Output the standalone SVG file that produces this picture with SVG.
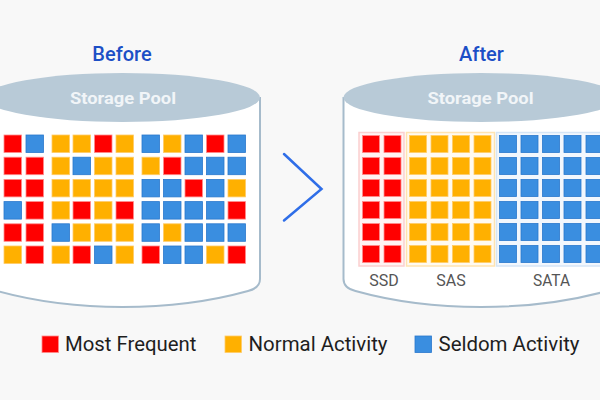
<svg xmlns="http://www.w3.org/2000/svg" width="600" height="400" viewBox="0 0 600 400">
<style>
  .bg { fill: #f8f8f8; }
  .body { fill: #ffffff; stroke: #a6bbcb; stroke-width: 2; }
  .lid { fill: #b8cad7; }
  .title { font-family: Roboto, "Liberation Sans", sans-serif; font-size: 20px; font-weight: 500; fill: #1c4fc6; text-anchor: middle; }
  .pool { font-family: Roboto, "Liberation Sans", sans-serif; font-size: 17px; font-weight: 700; fill: #f1f5f8; text-anchor: middle; }
  .tier { font-family: Roboto, "Liberation Sans", sans-serif; font-size: 16px; fill: #555555; text-anchor: middle; }
  .leg { font-family: Roboto, "Liberation Sans", sans-serif; font-size: 20px; fill: #1e1e1e; }
  .r { fill: #ff0000; stroke: #ff8a8a; stroke-width: 0.8; }
  .y { fill: #ffb000; stroke: #ffcb66; stroke-width: 0.8; }
  .b { fill: #3a8ee0; stroke: #2a78cc; stroke-width: 0.8; }
  .gr { fill: #fff3f3; stroke: #fbcfcf; stroke-width: 1.5; }
  .gy { fill: #fffaf0; stroke: #ffe3b0; stroke-width: 1.5; }
  .gb { fill: #f2f7fd; stroke: #d5e5f6; stroke-width: 1.5; }
  .chev { fill: none; stroke: #2f6ee8; stroke-width: 2.5; stroke-linecap: round; stroke-linejoin: miter; }
</style>
<defs>
  <rect id="sqL" width="17.5" height="17.5"/>
  <rect id="sqR" width="17" height="17"/>
</defs>
<rect class="bg" x="0" y="0" width="600" height="400"/>

<g id="before">
  <text class="title" x="122" y="61">Before</text>
  <path class="body" d="M 260,97 L 260,279 Q 260,288 248,291 C 205,303 160,307 122.5,307 C 85,307 40,303 -3,291 Q -15,288 -15,279 L -15,97"/>
  <ellipse class="lid" cx="122.5" cy="97.5" rx="137.5" ry="24.5"/>
  <text class="pool" x="123" y="104" textLength="106" lengthAdjust="spacingAndGlyphs">Storage Pool</text>
  <g id="before-grid">
    <use href="#sqL" class="r" x="4" y="135"/><use href="#sqL" class="b" x="26" y="135"/>
    <use href="#sqL" class="y" x="52" y="135"/><use href="#sqL" class="y" x="73" y="135"/><use href="#sqL" class="r" x="94.5" y="135"/><use href="#sqL" class="y" x="116" y="135"/>
    <use href="#sqL" class="b" x="142" y="135"/><use href="#sqL" class="y" x="163.5" y="135"/><use href="#sqL" class="b" x="185" y="135"/><use href="#sqL" class="r" x="206.5" y="135"/><use href="#sqL" class="b" x="228" y="135"/>
    <use href="#sqL" class="r" x="4" y="157.2"/><use href="#sqL" class="r" x="26" y="157.2"/>
    <use href="#sqL" class="y" x="52" y="157.2"/><use href="#sqL" class="b" x="73" y="157.2"/><use href="#sqL" class="y" x="94.5" y="157.2"/><use href="#sqL" class="y" x="116" y="157.2"/>
    <use href="#sqL" class="y" x="142" y="157.2"/><use href="#sqL" class="r" x="163.5" y="157.2"/><use href="#sqL" class="b" x="185" y="157.2"/><use href="#sqL" class="b" x="206.5" y="157.2"/><use href="#sqL" class="b" x="228" y="157.2"/>
    <use href="#sqL" class="r" x="4" y="179.4"/><use href="#sqL" class="r" x="26" y="179.4"/>
    <use href="#sqL" class="y" x="52" y="179.4"/><use href="#sqL" class="y" x="73" y="179.4"/><use href="#sqL" class="y" x="94.5" y="179.4"/><use href="#sqL" class="y" x="116" y="179.4"/>
    <use href="#sqL" class="b" x="142" y="179.4"/><use href="#sqL" class="b" x="163.5" y="179.4"/><use href="#sqL" class="r" x="185" y="179.4"/><use href="#sqL" class="b" x="206.5" y="179.4"/><use href="#sqL" class="y" x="228" y="179.4"/>
    <use href="#sqL" class="b" x="4" y="201.6"/><use href="#sqL" class="r" x="26" y="201.6"/>
    <use href="#sqL" class="y" x="52" y="201.6"/><use href="#sqL" class="r" x="73" y="201.6"/><use href="#sqL" class="y" x="94.5" y="201.6"/><use href="#sqL" class="r" x="116" y="201.6"/>
    <use href="#sqL" class="b" x="142" y="201.6"/><use href="#sqL" class="b" x="163.5" y="201.6"/><use href="#sqL" class="b" x="185" y="201.6"/><use href="#sqL" class="b" x="206.5" y="201.6"/><use href="#sqL" class="r" x="228" y="201.6"/>
    <use href="#sqL" class="r" x="4" y="223.8"/><use href="#sqL" class="r" x="26" y="223.8"/>
    <use href="#sqL" class="b" x="52" y="223.8"/><use href="#sqL" class="y" x="73" y="223.8"/><use href="#sqL" class="y" x="94.5" y="223.8"/><use href="#sqL" class="y" x="116" y="223.8"/>
    <use href="#sqL" class="b" x="142" y="223.8"/><use href="#sqL" class="y" x="163.5" y="223.8"/><use href="#sqL" class="b" x="185" y="223.8"/><use href="#sqL" class="b" x="206.5" y="223.8"/><use href="#sqL" class="b" x="228" y="223.8"/>
    <use href="#sqL" class="y" x="4" y="246"/><use href="#sqL" class="r" x="26" y="246"/>
    <use href="#sqL" class="y" x="52" y="246"/><use href="#sqL" class="r" x="73" y="246"/><use href="#sqL" class="b" x="94.5" y="246"/><use href="#sqL" class="y" x="116" y="246"/>
    <use href="#sqL" class="r" x="142" y="246"/><use href="#sqL" class="b" x="163.5" y="246"/><use href="#sqL" class="b" x="185" y="246"/><use href="#sqL" class="y" x="206.5" y="246"/><use href="#sqL" class="r" x="228" y="246"/>
  </g>
</g>

<g id="arrow">
  <polyline class="chev" points="284,154 321.5,189 284,220.5"/>
</g>

<g id="after">
  <text class="title" x="481.5" y="61">After</text>
  <path class="body" d="M 619,97 L 619,279 Q 619,288 607,291 C 564,303 519,307 481,307 C 443.5,307 398.5,303 355.5,291 Q 343.5,288 343.5,279 L 343.5,97"/>
  <ellipse class="lid" cx="481" cy="97.5" rx="137.5" ry="24.5"/>
  <text class="pool" x="480.5" y="104" textLength="106" lengthAdjust="spacingAndGlyphs">Storage Pool</text>
  <g id="tier-ssd">
    <rect class="gr" x="359" y="132.5" width="45" height="133.5"/>
    <use href="#sqR" class="r" x="362.5" y="135.5"/><use href="#sqR" class="r" x="384" y="135.5"/>
    <use href="#sqR" class="r" x="362.5" y="157.5"/><use href="#sqR" class="r" x="384" y="157.5"/>
    <use href="#sqR" class="r" x="362.5" y="179.5"/><use href="#sqR" class="r" x="384" y="179.5"/>
    <use href="#sqR" class="r" x="362.5" y="201.5"/><use href="#sqR" class="r" x="384" y="201.5"/>
    <use href="#sqR" class="r" x="362.5" y="223.5"/><use href="#sqR" class="r" x="384" y="223.5"/>
    <use href="#sqR" class="r" x="362.5" y="245.5"/><use href="#sqR" class="r" x="384" y="245.5"/>
    <text class="tier" x="384" y="286">SSD</text>
  </g>
  <g id="tier-sas">
    <rect class="gy" x="406.5" y="132.5" width="88" height="133.5"/>
    <use href="#sqR" class="y" x="409.5" y="135.5"/><use href="#sqR" class="y" x="431" y="135.5"/><use href="#sqR" class="y" x="452.5" y="135.5"/><use href="#sqR" class="y" x="474" y="135.5"/>
    <use href="#sqR" class="y" x="409.5" y="157.5"/><use href="#sqR" class="y" x="431" y="157.5"/><use href="#sqR" class="y" x="452.5" y="157.5"/><use href="#sqR" class="y" x="474" y="157.5"/>
    <use href="#sqR" class="y" x="409.5" y="179.5"/><use href="#sqR" class="y" x="431" y="179.5"/><use href="#sqR" class="y" x="452.5" y="179.5"/><use href="#sqR" class="y" x="474" y="179.5"/>
    <use href="#sqR" class="y" x="409.5" y="201.5"/><use href="#sqR" class="y" x="431" y="201.5"/><use href="#sqR" class="y" x="452.5" y="201.5"/><use href="#sqR" class="y" x="474" y="201.5"/>
    <use href="#sqR" class="y" x="409.5" y="223.5"/><use href="#sqR" class="y" x="431" y="223.5"/><use href="#sqR" class="y" x="452.5" y="223.5"/><use href="#sqR" class="y" x="474" y="223.5"/>
    <use href="#sqR" class="y" x="409.5" y="245.5"/><use href="#sqR" class="y" x="431" y="245.5"/><use href="#sqR" class="y" x="452.5" y="245.5"/><use href="#sqR" class="y" x="474" y="245.5"/>
    <text class="tier" x="451" y="286">SAS</text>
  </g>
  <g id="tier-sata">
    <rect class="gb" x="496.5" y="132.5" width="110" height="133.5"/>
    <use href="#sqR" class="b" x="499.5" y="135.5"/><use href="#sqR" class="b" x="521" y="135.5"/><use href="#sqR" class="b" x="542.5" y="135.5"/><use href="#sqR" class="b" x="564" y="135.5"/><use href="#sqR" class="b" x="586" y="135.5"/>
    <use href="#sqR" class="b" x="499.5" y="157.5"/><use href="#sqR" class="b" x="521" y="157.5"/><use href="#sqR" class="b" x="542.5" y="157.5"/><use href="#sqR" class="b" x="564" y="157.5"/><use href="#sqR" class="b" x="586" y="157.5"/>
    <use href="#sqR" class="b" x="499.5" y="179.5"/><use href="#sqR" class="b" x="521" y="179.5"/><use href="#sqR" class="b" x="542.5" y="179.5"/><use href="#sqR" class="b" x="564" y="179.5"/><use href="#sqR" class="b" x="586" y="179.5"/>
    <use href="#sqR" class="b" x="499.5" y="201.5"/><use href="#sqR" class="b" x="521" y="201.5"/><use href="#sqR" class="b" x="542.5" y="201.5"/><use href="#sqR" class="b" x="564" y="201.5"/><use href="#sqR" class="b" x="586" y="201.5"/>
    <use href="#sqR" class="b" x="499.5" y="223.5"/><use href="#sqR" class="b" x="521" y="223.5"/><use href="#sqR" class="b" x="542.5" y="223.5"/><use href="#sqR" class="b" x="564" y="223.5"/><use href="#sqR" class="b" x="586" y="223.5"/>
    <use href="#sqR" class="b" x="499.5" y="245.5"/><use href="#sqR" class="b" x="521" y="245.5"/><use href="#sqR" class="b" x="542.5" y="245.5"/><use href="#sqR" class="b" x="564" y="245.5"/><use href="#sqR" class="b" x="586" y="245.5"/>
    <text class="tier" x="551.5" y="286" textLength="37" lengthAdjust="spacingAndGlyphs">SATA</text>
  </g>
</g>

<g id="legend">
  <rect class="r" x="42" y="336" width="16.5" height="16.5"/>
  <text class="leg" x="65" y="351" textLength="131.5" lengthAdjust="spacingAndGlyphs">Most Frequent</text>
  <rect class="y" x="225" y="336" width="16.5" height="16.5"/>
  <text class="leg" x="248.5" y="351" textLength="139" lengthAdjust="spacingAndGlyphs">Normal Activity</text>
  <rect class="b" x="415" y="336" width="16.5" height="16.5"/>
  <text class="leg" x="438.5" y="351" textLength="141" lengthAdjust="spacingAndGlyphs">Seldom Activity</text>
</g>
</svg>
